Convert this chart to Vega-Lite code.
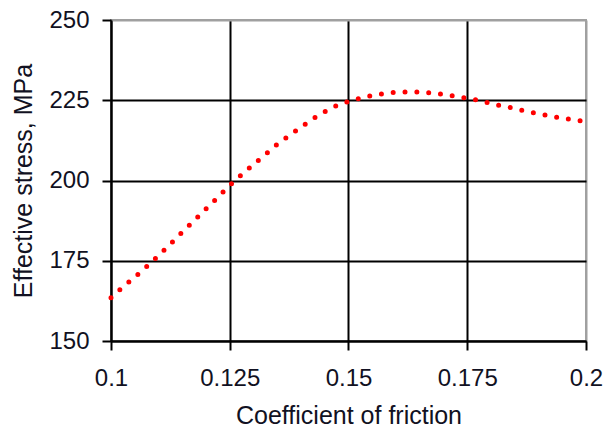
{
  "$schema": "https://vega.github.io/schema/vega-lite/v6.json",
  "width": 475,
  "height": 321,
  "autosize": "none",
  "padding": {"left": 111, "top": 20, "right": 25, "bottom": 94},
  "background": "white",
  "config": {
    "view": {"stroke": "#a0a0a0", "strokeWidth": 2},
    "font": "Liberation Sans",
    "axis": {
      "labelFont": "Liberation Sans",
      "titleFont": "Liberation Sans",
      "labelColor": "#111122",
      "titleColor": "#111122",
      "labelFontSize": 24,
      "titleFontSize": 25,
      "titleFontWeight": "normal",
      "domainColor": "black",
      "domainWidth": 2,
      "tickColor": "black",
      "tickWidth": 2,
      "tickSize": 9,
      "gridWidth": 2,
      "gridOpacity": 1
    }
  },
  "data": {
    "values": [
      {"mu": 0.1, "stress": 163.5},
      {"mu": 0.1025, "stress": 166.8},
      {"mu": 0.105, "stress": 169.9},
      {"mu": 0.1075, "stress": 173.2},
      {"mu": 0.11, "stress": 176.6},
      {"mu": 0.1125, "stress": 180.2},
      {"mu": 0.115, "stress": 183.9},
      {"mu": 0.1175, "stress": 187.5},
      {"mu": 0.12, "stress": 191.2},
      {"mu": 0.1225, "stress": 194.8},
      {"mu": 0.125, "stress": 198.5},
      {"mu": 0.1275, "stress": 201.8},
      {"mu": 0.13, "stress": 205.0},
      {"mu": 0.1325, "stress": 208.1},
      {"mu": 0.135, "stress": 211.3},
      {"mu": 0.1375, "stress": 214.0},
      {"mu": 0.14, "stress": 216.6},
      {"mu": 0.1425, "stress": 219.2},
      {"mu": 0.145, "stress": 221.4},
      {"mu": 0.1475, "stress": 223.3},
      {"mu": 0.15, "stress": 224.6},
      {"mu": 0.1525, "stress": 225.6},
      {"mu": 0.155, "stress": 226.5},
      {"mu": 0.1575, "stress": 227.1},
      {"mu": 0.16, "stress": 227.5},
      {"mu": 0.1625, "stress": 227.6},
      {"mu": 0.165, "stress": 227.5},
      {"mu": 0.1675, "stress": 227.3},
      {"mu": 0.17, "stress": 226.8},
      {"mu": 0.1725, "stress": 226.2},
      {"mu": 0.175, "stress": 225.6},
      {"mu": 0.1775, "stress": 224.9},
      {"mu": 0.18, "stress": 224.0},
      {"mu": 0.1825, "stress": 223.2},
      {"mu": 0.185, "stress": 222.4},
      {"mu": 0.1875, "stress": 221.5},
      {"mu": 0.19, "stress": 220.8},
      {"mu": 0.1925, "stress": 220.1},
      {"mu": 0.195, "stress": 219.4},
      {"mu": 0.1975, "stress": 218.9},
      {"mu": 0.2, "stress": 218.4}
    ]
  },
  "mark": {
    "type": "line",
    "color": "#ff0000",
    "strokeWidth": 5,
    "strokeCap": "round",
    "strokeDash": [0, 11.85],
    "interpolate": "monotone"
  },
  "encoding": {
    "x": {
      "field": "mu",
      "type": "quantitative",
      "scale": {"domain": [0.1, 0.2], "nice": false, "zero": false},
      "axis": {
        "title": "Coefficient of friction",
        "values": [0.1, 0.125, 0.15, 0.175, 0.2],
        "labelExpr": "format(datum.value, '.3~f')",
        "labelFlush": false,
        "labelOverlap": false,
        "labelPadding": 16,
        "titlePadding": 13,
        "gridColor": {"condition": {"test": "datum.value >= 0.2", "value": "#a0a0a0"}, "value": "black"}
      }
    },
    "y": {
      "field": "stress",
      "type": "quantitative",
      "scale": {"domain": [150, 250], "nice": false, "zero": false},
      "axis": {
        "title": "Effective stress, MPa",
        "values": [150, 175, 200, 225, 250],
        "format": "d",
        "labelPadding": 13,
        "titlePadding": 12,
        "labelFlush": false,
        "labelOverlap": false,
        "gridColor": {"condition": {"test": "datum.value >= 250", "value": "#a0a0a0"}, "value": "black"}
      }
    }
  }
}
